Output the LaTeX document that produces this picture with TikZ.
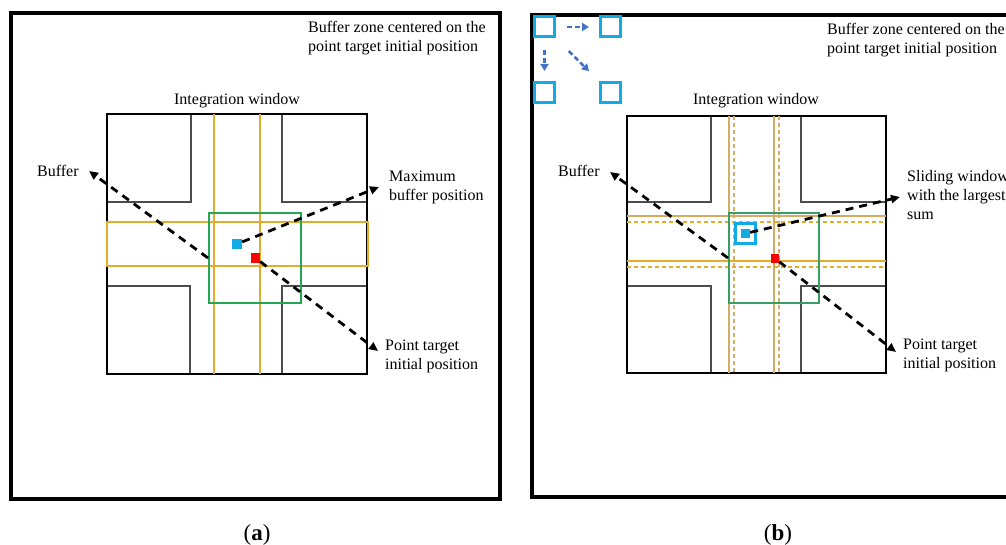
\documentclass[tikz,border=0pt]{standalone}
\usepackage{fontspec}
\setmainfont{Liberation Serif}
\usetikzlibrary{arrows.meta}
\definecolor{gold}{RGB}{229,172,44}
\definecolor{goldpale}{RGB}{212,172,100}
\definecolor{wingreen}{RGB}{38,165,84}
\definecolor{wingreenb}{RGB}{56,158,100}
\definecolor{cyanblue}{RGB}{18,170,228}
\definecolor{steel}{RGB}{68,114,196}
\definecolor{blockgray}{RGB}{75,75,75}
\begin{document}
\begin{tikzpicture}[x=1pt,y=-1pt,
  lbl/.style={font=\fontsize{16}{19}\selectfont, inner sep=0pt, align=left},
  captext/.style={font=\fontsize{23}{26}\selectfont, inner sep=0pt},
  frame/.style={line width=3.5pt},
  winline/.style={line width=1.6pt},
  blockline/.style={draw=blockgray, line width=1.3pt},
  band/.style={draw=gold, line width=2pt},
  bandpale/.style={draw=goldpale, line width=1.6pt},
  banddash/.style={draw=gold, line width=1.5pt, dash pattern=on 4pt off 3pt},
  banddashpale/.style={draw=goldpale, line width=1.5pt, dash pattern=on 4pt off 3pt},
  greenwin/.style={draw=#1, line width=2pt, minimum width=90pt, minimum height=90pt, inner sep=0pt},
  tgt/.style={fill=red, minimum width=9pt, minimum height=10pt, inner sep=0pt},
  bluept/.style={fill=cyanblue, minimum size=10pt, inner sep=0pt},
  bluebox/.style={draw=cyanblue, line width=3pt, minimum size=20pt, inner sep=0pt},
  darr/.style={line width=2.8pt, dash pattern=on 8pt off 6pt, -{Triangle[length=9pt,width=8pt]}},
  sarr/.style={draw=steel, line width=2.6pt, dash pattern=on 5pt off 3pt, -{Triangle[length=7pt,width=8pt]}}
]
\useasboundingbox (0,0) rectangle (1006,545);
\clip (0,0) rectangle (1006,545);

% ---------------- panel (a) ----------------
\draw[frame] (11,13) rectangle (500,499);
% buildings inside the integration window
\draw[blockline] (191,114) -- (191,202) -- (107,202);
\draw[blockline] (282,114) -- (282,202) -- (367,202);
\draw[blockline] (107,286) -- (190,286) -- (190,374);
\draw[blockline] (367,286) -- (282,286) -- (282,374);
\draw[winline] (107,114) rectangle (367,374);
% buffer bands
\draw[band] (214,114) -- (214,374);
\draw[band] (260,114) -- (260,374);
\draw[band] (107,222) rectangle (368,266);
% buffer window, target and maximum
\node[greenwin=wingreen, minimum width=92pt] (a-win) at (255,258) {};
\node[tgt] (a-tgt) at (255.5,258) {};
\node[bluept] (a-max) at (237,244) {};
\coordinate (a-bufend) at (89,171);
\coordinate (a-tgtend) at (378,351);
\coordinate (a-maxend) at (379,187);
\draw[darr] (a-win.west) -- (a-bufend);
\draw[darr] (a-tgt) -- (a-tgtend);
\draw[darr] (a-max) -- (a-maxend);
% labels (multi-line nodes are placed by the baseline of their last line)
\node[lbl, anchor=base west] (a-zone) at (308,52) {Buffer zone centered on the\\point target initial position};
\node[lbl, anchor=base] (a-intw) at (237,105) {Integration window};
\node[lbl, anchor=base west] (a-buf) at (37,177) {Buffer};
\node[lbl, anchor=base west] (a-maxl) at (389,201) {Maximum\\buffer position};
\node[lbl, anchor=base west] (a-ptl) at (385,369) {Point target\\initial position};
\node[captext, anchor=base] (a-cap) at (257,540) {(\textbf{a})};

% ---------------- panel (b) ----------------
\draw[frame] (1012,15) -- (532,15) -- (532,497) -- (1012,497);
% sliding order of the window
\node[bluebox] (sw1) at (544.5,27) {};
\node[bluebox] (sw2) at (610.5,27) {};
\node[bluebox] (sw3) at (544.5,92.5) {};
\node[bluebox] (sw4) at (610.5,92.5) {};
\draw[sarr, shorten <=11pt, shorten >=10pt] (sw1.east) -- (sw2.west);
\draw[sarr, shorten <=12pt, shorten >=10pt] (sw1.south) -- (sw3.north);
\draw[sarr, shorten <=18pt, shorten >=14pt] (sw1.south east) -- (sw4.north west);
% buildings inside the integration window
\draw[blockline] (711,116) -- (711,202) -- (627,202);
\draw[blockline] (801,116) -- (801,202) -- (886,202);
\draw[blockline] (627,286) -- (711,286) -- (711,373);
\draw[blockline] (886,286) -- (801,286) -- (801,373);
\draw[winline] (627,116) rectangle (886,373);
% buffer bands: initial (solid) and shifted (dashed)
\draw[bandpale] (729,116) -- (729,373);
\draw[bandpale] (774,116) -- (774,373);
\draw[banddashpale] (734,116) -- (734,373);
\draw[banddashpale] (779,116) -- (779,373);
\draw[bandpale] (627,216) -- (886,216);
\draw[band] (627,261) -- (886,261);
\draw[banddash] (627,222) -- (886,222);
\draw[banddash] (627,267) -- (886,267);
% buffer window, target and best sliding window
\node[greenwin=wingreenb] (b-win) at (774,258) {};
\node[tgt, minimum width=8pt, minimum height=9pt] (b-tgt) at (775,258.5) {};
\node[bluebox, minimum size=20pt] (b-sw) at (745.5,234) {};
\node[bluept, minimum size=9pt] (b-max) at (745.5,233.5) {};
\coordinate (b-bufend) at (610,172);
\coordinate (b-tgtend) at (896,352);
\coordinate (b-maxend) at (900,197);
\draw[darr] (b-win.west) -- (b-bufend);
\draw[darr] (b-tgt) -- (b-tgtend);
\draw[darr] (b-max) -- (b-maxend);
% labels
\node[lbl, anchor=base west] (b-zone) at (827,54) {Buffer zone centered on the\\point target initial position};
\node[lbl, anchor=base] (b-intw) at (756,105) {Integration window};
\node[lbl, anchor=base west] (b-buf) at (558,177) {Buffer};
\node[lbl, anchor=base west] (b-swl) at (907,220) {Sliding window\\with the largest\\sum};
\node[lbl, anchor=base west] (b-ptl) at (903,368) {Point target\\initial position};
\node[captext, anchor=base] (b-cap) at (778,540) {(\textbf{b})};
\end{tikzpicture}
\end{document}
